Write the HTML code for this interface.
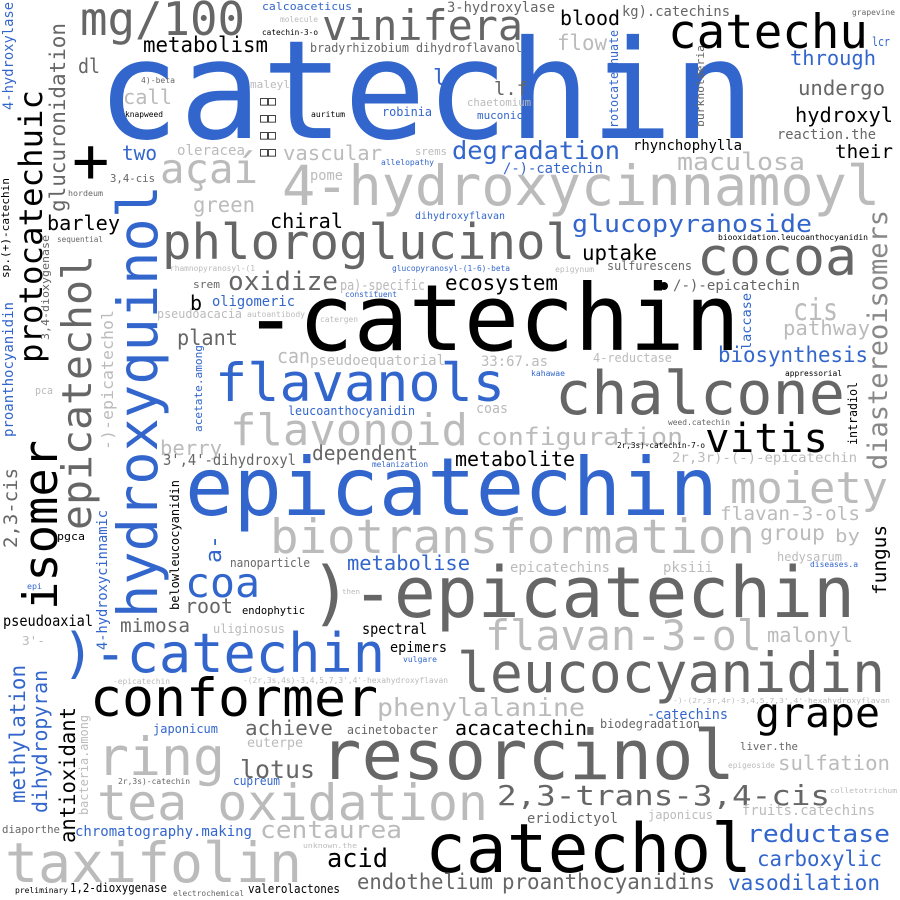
<!DOCTYPE html>
<html><head><meta charset="utf-8"><style>
html,body{margin:0;padding:0;background:#fff;}
svg{display:block}
text{font-family:"DejaVu Sans Mono","Liberation Mono","Noto Sans CJK SC",monospace;}
.b{fill:#3366cc}.k{fill:#000}.g{fill:#666}.l{fill:#bbb}.m{fill:#888}
</style></head><body>
<svg width="900" height="900" viewBox="0 0 900 900" xmlns="http://www.w3.org/2000/svg">
<g lengthAdjust="spacingAndGlyphs">
<text class="b" x="97" y="138" font-size="137" textLength="658" lengthAdjust="spacingAndGlyphs">catechin</text>
<text class="k" x="243" y="350" font-size="92" textLength="497" lengthAdjust="spacingAndGlyphs">-catechin</text>
<text class="b" x="185" y="515" font-size="80" textLength="533" lengthAdjust="spacingAndGlyphs">epicatechin</text>
<text class="g" x="310" y="617" font-size="70" textLength="545" lengthAdjust="spacingAndGlyphs">)-epicatechin</text>
<text class="g" x="320" y="779" font-size="69" textLength="415" lengthAdjust="spacingAndGlyphs">resorcinol</text>
<text class="k" x="425" y="872" font-size="68" textLength="327" lengthAdjust="spacingAndGlyphs">catechol</text>
<text class="b" x="62" y="672" font-size="54" textLength="323" lengthAdjust="spacingAndGlyphs">)-catechin</text>
<text class="k" x="90" y="716" font-size="53" textLength="288" lengthAdjust="spacingAndGlyphs">conformer</text>
<text class="g" x="457" y="692" font-size="55" textLength="428" lengthAdjust="spacingAndGlyphs">leucocyanidin</text>
<text class="g" x="555" y="414" font-size="60" textLength="290" lengthAdjust="spacingAndGlyphs">chalcone</text>
<text class="g" x="162" y="259" font-size="49" textLength="413" lengthAdjust="spacingAndGlyphs">phloroglucinol</text>
<text class="l" x="282" y="205" font-size="55" textLength="598" lengthAdjust="spacingAndGlyphs">4-hydroxycinnamoyl</text>
<text class="l" x="270" y="553" font-size="47" textLength="485" lengthAdjust="spacingAndGlyphs">biotransformation</text>
<text class="l" x="97" y="820" font-size="50" textLength="391" lengthAdjust="spacingAndGlyphs">tea oxidation</text>
<text class="l" x="5" y="882" font-size="55" textLength="297" lengthAdjust="spacingAndGlyphs">taxifolin</text>
<text class="l" x="97" y="775" font-size="53" textLength="128" lengthAdjust="spacingAndGlyphs">ring</text>
<text class="l" x="230" y="445" font-size="44" textLength="238" lengthAdjust="spacingAndGlyphs">flavonoid</text>
<text class="b" x="215" y="401" font-size="53" textLength="290" lengthAdjust="spacingAndGlyphs">flavanols</text>
<text class="l" x="485" y="650" font-size="42" textLength="277" lengthAdjust="spacingAndGlyphs">flavan-3-ol</text>

<!-- vertical -->
<text class="b" font-size="55" textLength="433" lengthAdjust="spacingAndGlyphs" transform="translate(157,618) rotate(-90)">hydroxyquinol</text>
<text class="k" font-size="47" textLength="170" lengthAdjust="spacingAndGlyphs" transform="translate(57,610) rotate(-90)">isomer</text>
<text class="k" font-size="32" textLength="273" lengthAdjust="spacingAndGlyphs" transform="translate(42,363) rotate(-90)">protocatechuic</text>
<text class="g" font-size="41" textLength="275" lengthAdjust="spacingAndGlyphs" transform="translate(91,530) rotate(-90)">epicatechol</text>
<text class="g" font-size="21" textLength="189" lengthAdjust="spacingAndGlyphs" transform="translate(65,212) rotate(-90)">glucuronidation</text>
<text class="b" font-size="14" textLength="108" lengthAdjust="spacingAndGlyphs" transform="translate(13,110) rotate(-90)">4-hydroxylase</text>
<text class="b" font-size="14" textLength="135" lengthAdjust="spacingAndGlyphs" transform="translate(13,437) rotate(-90)">proanthocyanidin</text>
<text class="k" font-size="11" textLength="100" lengthAdjust="spacingAndGlyphs" transform="translate(9,278) rotate(-90)">sp.(+)-catechin</text>
<text class="g" font-size="11" textLength="105" lengthAdjust="spacingAndGlyphs" transform="translate(49,340) rotate(-90)">3,4-dioxygenase</text>
<text class="l" font-size="16" textLength="140" lengthAdjust="spacingAndGlyphs" transform="translate(113,450) rotate(-90)">-)-epicatechol</text>
<text class="g" font-size="19" textLength="80" lengthAdjust="spacingAndGlyphs" transform="translate(17,548) rotate(-90)">2,3-cis</text>
<text class="b" font-size="14" textLength="140" lengthAdjust="spacingAndGlyphs" transform="translate(107,650) rotate(-90)">4-hydroxycinnamic</text>
<text class="k" font-size="12" textLength="130" lengthAdjust="spacingAndGlyphs" transform="translate(179,610) rotate(-90)">belowleucocyanidin</text>
<text class="b" font-size="22" textLength="28" lengthAdjust="spacingAndGlyphs" transform="translate(221,563) rotate(-90)">a-</text>
<text class="b" font-size="21" textLength="138" lengthAdjust="spacingAndGlyphs" transform="translate(25,803) rotate(-90)">methylation</text>
<text class="b" font-size="20" textLength="143" lengthAdjust="spacingAndGlyphs" transform="translate(47,813) rotate(-90)">dihydropyran</text>
<text class="k" font-size="21" textLength="136" lengthAdjust="spacingAndGlyphs" transform="translate(75,843) rotate(-90)">antioxidant</text>
<text class="l" font-size="12" textLength="100" lengthAdjust="spacingAndGlyphs" transform="translate(88,815) rotate(-90)">bacteria.among</text>
<text class="b" font-size="11" textLength="87" lengthAdjust="spacingAndGlyphs" transform="translate(202,432) rotate(-90)">acetate.among</text>
<text class="m" font-size="27" textLength="260" lengthAdjust="spacingAndGlyphs" transform="translate(887,470) rotate(-90)">diastereoisomers</text>
<text class="k" font-size="19" textLength="70" lengthAdjust="spacingAndGlyphs" transform="translate(886,595) rotate(-90)">fungus</text>
<text class="b" font-size="12" textLength="105" lengthAdjust="spacingAndGlyphs" transform="translate(618,135) rotate(-90)">protocatechuate</text>
<text class="g" font-size="11" textLength="82" lengthAdjust="spacingAndGlyphs" transform="translate(704,127) rotate(-90)">burkholderia</text>
<text class="b" font-size="13" textLength="57" lengthAdjust="spacingAndGlyphs" transform="translate(751,350) rotate(-90)">laccase</text>
<text class="k" font-size="12" textLength="63" lengthAdjust="spacingAndGlyphs" transform="translate(857,445) rotate(-90)">intradiol</text>

<!-- horizontal smaller -->
<text class="g" x="80" y="35" font-size="46" textLength="165" lengthAdjust="spacingAndGlyphs">mg/100</text>
<text class="g" x="322" y="40" font-size="42" textLength="201" lengthAdjust="spacingAndGlyphs">vinifera</text>
<text class="k" x="668" y="48" font-size="47" textLength="200" lengthAdjust="spacingAndGlyphs">catechu</text>
<text class="k" x="143" y="52" font-size="21" textLength="125" lengthAdjust="spacingAndGlyphs">metabolism</text>
<text class="b" x="262" y="10" font-size="11" textLength="90" lengthAdjust="spacingAndGlyphs">calcoaceticus</text>
<text class="l" x="280" y="22" font-size="8" textLength="38" lengthAdjust="spacingAndGlyphs">molecule</text>
<text class="k" x="262" y="35" font-size="8" textLength="56" lengthAdjust="spacingAndGlyphs">catechin-3-o</text>
<text class="g" x="447" y="12" font-size="14" textLength="108" lengthAdjust="spacingAndGlyphs">3-hydroxylase</text>
<text class="k" x="560" y="25" font-size="20" textLength="60" lengthAdjust="spacingAndGlyphs">blood</text>
<text class="g" x="622" y="16" font-size="14" textLength="108" lengthAdjust="spacingAndGlyphs">kg).catechins</text>
<text class="g" x="852" y="15" font-size="8" textLength="43" lengthAdjust="spacingAndGlyphs">grapevine</text>
<text class="b" x="872" y="46" font-size="12" textLength="18" lengthAdjust="spacingAndGlyphs">lcr</text>
<text class="b" x="790" y="65" font-size="20" textLength="86" lengthAdjust="spacingAndGlyphs">through</text>
<text class="g" x="798" y="95" font-size="20" textLength="87" lengthAdjust="spacingAndGlyphs">undergo</text>
<text class="k" x="795" y="122" font-size="20" textLength="98" lengthAdjust="spacingAndGlyphs">hydroxyl</text>
<text class="g" x="777" y="139" font-size="14" textLength="99" lengthAdjust="spacingAndGlyphs">reaction.the</text>
<text class="k" x="835" y="158" font-size="19" textLength="58" lengthAdjust="spacingAndGlyphs">their</text>
<text class="l" x="557" y="50" font-size="21" textLength="50" lengthAdjust="spacingAndGlyphs">flow</text>
<text class="g" x="494" y="95" font-size="19" textLength="34" lengthAdjust="spacingAndGlyphs">l.f</text>
<text class="l" x="467" y="106" font-size="11" textLength="64" lengthAdjust="spacingAndGlyphs">chaetomium</text>
<text class="b" x="477" y="119" font-size="11" textLength="46" lengthAdjust="spacingAndGlyphs">muconic</text>
<text class="g" x="310" y="52" font-size="12" textLength="212" lengthAdjust="spacingAndGlyphs">bradyrhizobium dihydroflavanol</text>
<text class="b" x="433" y="85" font-size="22">l</text>
<text class="g" x="78" y="73" font-size="20" textLength="22" lengthAdjust="spacingAndGlyphs">dl</text>
<text class="l" x="123" y="104" font-size="20" textLength="49" lengthAdjust="spacingAndGlyphs">call</text>
<text class="g" x="141" y="83" font-size="8" textLength="34" lengthAdjust="spacingAndGlyphs">4)-beta</text>
<text class="k" x="125" y="117" font-size="8" textLength="38" lengthAdjust="spacingAndGlyphs">knapweed</text>
<text class="l" x="250" y="88" font-size="11" textLength="40" lengthAdjust="spacingAndGlyphs">maleyl</text>
<text class="k" x="260" y="105" font-size="12" textLength="16" lengthAdjust="spacingAndGlyphs">□□</text>
<text class="k" x="260" y="122" font-size="12" textLength="16" lengthAdjust="spacingAndGlyphs">□□</text>
<text class="k" x="260" y="139" font-size="12" textLength="16" lengthAdjust="spacingAndGlyphs">□□</text>
<text class="k" x="260" y="156" font-size="12" textLength="16" lengthAdjust="spacingAndGlyphs">□□</text>
<text class="k" x="311" y="117" font-size="8" textLength="34" lengthAdjust="spacingAndGlyphs">auritum</text>
<text class="b" x="382" y="116" font-size="12" textLength="50" lengthAdjust="spacingAndGlyphs">robinia</text>
<text class="b" x="122" y="160" font-size="20" textLength="35" lengthAdjust="spacingAndGlyphs">two</text>
<text class="l" x="177" y="155" font-size="14" textLength="68" lengthAdjust="spacingAndGlyphs">oleracea</text>
<text class="l" x="283" y="160" font-size="20" textLength="99" lengthAdjust="spacingAndGlyphs">vascular</text>
<text class="l" x="415" y="155" font-size="11" textLength="32" lengthAdjust="spacingAndGlyphs">srems</text>
<text class="b" x="381" y="165" font-size="8" textLength="53" lengthAdjust="spacingAndGlyphs">allelopathy</text>
<text class="k" x="72" y="182" font-size="62">+</text>
<text class="g" x="110" y="182" font-size="11" textLength="45" lengthAdjust="spacingAndGlyphs">3,4-cis</text>
<text class="l" x="160" y="183" font-size="41" textLength="98" lengthAdjust="spacingAndGlyphs">açaí</text>
<text class="l" x="310" y="180" font-size="14" textLength="33" lengthAdjust="spacingAndGlyphs">pome</text>
<text class="l" x="193" y="212" font-size="21" textLength="62" lengthAdjust="spacingAndGlyphs">green</text>
<text class="g" x="68" y="196" font-size="8" textLength="35" lengthAdjust="spacingAndGlyphs">hordeum</text>
<text class="b" x="415" y="219" font-size="10" textLength="90" lengthAdjust="spacingAndGlyphs">dihydroxyflavan</text>
<text class="k" x="270" y="228" font-size="20" textLength="73" lengthAdjust="spacingAndGlyphs">chiral</text>
<text class="k" x="47" y="230" font-size="20" textLength="73" lengthAdjust="spacingAndGlyphs">barley</text>
<text class="g" x="57" y="242" font-size="8" textLength="46" lengthAdjust="spacingAndGlyphs">sequential</text>
<text class="b" x="572" y="232" font-size="24" textLength="240" lengthAdjust="spacingAndGlyphs">glucopyranoside</text>
<text class="b" x="392" y="271" font-size="8" textLength="118" lengthAdjust="spacingAndGlyphs">glucopyranosyl-(1-6)-beta</text>
<text class="l" x="170" y="271" font-size="8" textLength="85" lengthAdjust="spacingAndGlyphs">rhamnopyranosyl-(1</text>
<text class="k" x="718" y="240" font-size="8" textLength="150" lengthAdjust="spacingAndGlyphs">biooxidation.leucoanthocyanidin</text>
<text class="k" x="582" y="260" font-size="21" textLength="75" lengthAdjust="spacingAndGlyphs">uptake</text>
<text class="g" x="697" y="275" font-size="53" textLength="160" lengthAdjust="spacingAndGlyphs">cocoa</text>
<text class="g" x="607" y="270" font-size="12" textLength="85" lengthAdjust="spacingAndGlyphs">sulfurescens</text>
<text class="l" x="555" y="272" font-size="8" textLength="39" lengthAdjust="spacingAndGlyphs">epigynum</text>
<text class="k" x="445" y="290" font-size="21" textLength="113" lengthAdjust="spacingAndGlyphs">ecosystem</text>
<circle cx="664" cy="286" r="4" fill="#000"/>
<text class="g" x="673" y="290" font-size="14" textLength="127" lengthAdjust="spacingAndGlyphs">/-)-epicatechin</text>
<text class="g" x="193" y="288" font-size="11" textLength="27" lengthAdjust="spacingAndGlyphs">srem</text>
<text class="g" x="228" y="290" font-size="26" textLength="110" lengthAdjust="spacingAndGlyphs">oxidize</text>
<text class="l" x="340" y="290" font-size="14" textLength="85" lengthAdjust="spacingAndGlyphs">pa)-specific</text>
<text class="k" x="190" y="310" font-size="20">b</text>
<text class="b" x="212" y="306" font-size="14" textLength="83" lengthAdjust="spacingAndGlyphs">oligomeric</text>
<text class="b" x="345" y="297" font-size="8" textLength="52" lengthAdjust="spacingAndGlyphs">constituent</text>
<text class="l" x="157" y="318" font-size="12" textLength="85" lengthAdjust="spacingAndGlyphs">pseudoacacia</text>
<text class="l" x="247" y="317" font-size="8" textLength="58" lengthAdjust="spacingAndGlyphs">autoantibody</text>
<text class="l" x="320" y="322" font-size="8" textLength="38" lengthAdjust="spacingAndGlyphs">catergen</text>
<text class="l" x="793" y="320" font-size="30" textLength="45" lengthAdjust="spacingAndGlyphs">cis</text>
<text class="l" x="783" y="335" font-size="20" textLength="87" lengthAdjust="spacingAndGlyphs">pathway</text>
<text class="g" x="177" y="345" font-size="21" textLength="61" lengthAdjust="spacingAndGlyphs">plant</text>
<text class="l" x="277" y="363" font-size="20" textLength="33" lengthAdjust="spacingAndGlyphs">can</text>
<text class="l" x="310" y="365" font-size="14" textLength="135" lengthAdjust="spacingAndGlyphs">pseudoequatorial</text>
<text class="l" x="481" y="366" font-size="14" textLength="67" lengthAdjust="spacingAndGlyphs">33:67.as</text>
<text class="l" x="593" y="362" font-size="12" textLength="79" lengthAdjust="spacingAndGlyphs">4-reductase</text>
<text class="b" x="531" y="376" font-size="8" textLength="34" lengthAdjust="spacingAndGlyphs">kahawae</text>
<text class="b" x="718" y="362" font-size="21" textLength="150" lengthAdjust="spacingAndGlyphs">biosynthesis</text>
<text class="k" x="785" y="376" font-size="8" textLength="57" lengthAdjust="spacingAndGlyphs">appressorial</text>
<text class="l" x="35" y="394" font-size="11" textLength="18" lengthAdjust="spacingAndGlyphs">pca</text>
<text class="b" x="288" y="415" font-size="12" textLength="127" lengthAdjust="spacingAndGlyphs">leucoanthocyanidin</text>
<text class="l" x="476" y="413" font-size="14" textLength="32" lengthAdjust="spacingAndGlyphs">coas</text>
<text class="l" x="476" y="445" font-size="24" textLength="207" lengthAdjust="spacingAndGlyphs">configuration</text>
<text class="g" x="668" y="425" font-size="8" textLength="62" lengthAdjust="spacingAndGlyphs">weed.catechin</text>
<text class="k" x="617" y="448" font-size="8" textLength="88" lengthAdjust="spacingAndGlyphs">2r,3s)-catechin-7-o</text>
<text class="k" x="705" y="452" font-size="40" textLength="123" lengthAdjust="spacingAndGlyphs">vitis</text>
<text class="l" x="160" y="455" font-size="20" textLength="62" lengthAdjust="spacingAndGlyphs">berry</text>
<text class="g" x="163" y="465" font-size="15" textLength="133" lengthAdjust="spacingAndGlyphs">3',4'-dihydroxyl</text>
<text class="g" x="312" y="460" font-size="20" textLength="106" lengthAdjust="spacingAndGlyphs">dependent</text>
<text class="b" x="372" y="467" font-size="8" textLength="56" lengthAdjust="spacingAndGlyphs">melanization</text>
<text class="k" x="455" y="466" font-size="20" textLength="120" lengthAdjust="spacingAndGlyphs">metabolite</text>
<text class="l" x="672" y="462" font-size="13" textLength="185" lengthAdjust="spacingAndGlyphs">2r,3r)-(-)-epicatechin</text>
<text class="l" x="730" y="503" font-size="44" textLength="158" lengthAdjust="spacingAndGlyphs">moiety</text>
<text class="l" x="720" y="520" font-size="19" textLength="140" lengthAdjust="spacingAndGlyphs">flavan-3-ols</text>
<text class="l" x="760" y="540" font-size="21" textLength="65" lengthAdjust="spacingAndGlyphs">group</text>
<text class="l" x="835" y="542" font-size="18" textLength="25" lengthAdjust="spacingAndGlyphs">by</text>
<text class="l" x="777" y="561" font-size="12" textLength="65" lengthAdjust="spacingAndGlyphs">hedysarum</text>
<text class="b" x="810" y="567" font-size="8" textLength="48" lengthAdjust="spacingAndGlyphs">diseases.a</text>
<text class="k" x="57" y="540" font-size="11" textLength="28" lengthAdjust="spacingAndGlyphs">pgca</text>
<text class="g" x="230" y="567" font-size="12" textLength="80" lengthAdjust="spacingAndGlyphs">nanoparticle</text>
<text class="b" x="347" y="570" font-size="20" textLength="123" lengthAdjust="spacingAndGlyphs">metabolise</text>
<text class="l" x="510" y="572" font-size="14" textLength="100" lengthAdjust="spacingAndGlyphs">epicatechins</text>
<text class="l" x="663" y="572" font-size="14" textLength="50" lengthAdjust="spacingAndGlyphs">pksiii</text>
<text class="b" x="185" y="597" font-size="41" textLength="75" lengthAdjust="spacingAndGlyphs">coa</text>
<text class="b" x="27" y="589" font-size="8" textLength="15" lengthAdjust="spacingAndGlyphs">epi</text>
<text class="l" x="342" y="594" font-size="7" textLength="18" lengthAdjust="spacingAndGlyphs">then</text>
<text class="g" x="185" y="613" font-size="20" textLength="48" lengthAdjust="spacingAndGlyphs">root</text>
<text class="k" x="242" y="614" font-size="11" textLength="63" lengthAdjust="spacingAndGlyphs">endophytic</text>
<text class="k" x="3" y="626" font-size="15" textLength="90" lengthAdjust="spacingAndGlyphs">pseudoaxial</text>
<text class="g" x="120" y="632" font-size="19" textLength="70" lengthAdjust="spacingAndGlyphs">mimosa</text>
<text class="l" x="213" y="633" font-size="12" textLength="72" lengthAdjust="spacingAndGlyphs">uliginosus</text>
<text class="k" x="362" y="634" font-size="15" textLength="65" lengthAdjust="spacingAndGlyphs">spectral</text>
<text class="l" x="767" y="642" font-size="20" textLength="86" lengthAdjust="spacingAndGlyphs">malonyl</text>
<text class="l" x="22" y="645" font-size="12" textLength="23" lengthAdjust="spacingAndGlyphs">3'-</text>
<text class="k" x="390" y="652" font-size="14" textLength="57" lengthAdjust="spacingAndGlyphs">epimers</text>
<text class="b" x="403" y="662" font-size="8" textLength="34" lengthAdjust="spacingAndGlyphs">vulgare</text>
<text class="l" x="113" y="684" font-size="8" textLength="57" lengthAdjust="spacingAndGlyphs">-epicatechin</text>
<text class="l" x="243" y="683" font-size="8" textLength="205" lengthAdjust="spacingAndGlyphs">-(2r,3s,4s)-3,4,5,7,3',4'-hexahydroxyflavan</text>
<text class="l" x="377" y="716" font-size="25" textLength="208" lengthAdjust="spacingAndGlyphs">phenylalanine</text>
<text class="l" x="673" y="703" font-size="7" textLength="217" lengthAdjust="spacingAndGlyphs">-)-(2r,3r,4r)-3,4,5,7,3',4'-hexahydroxyflavan</text>
<text class="b" x="647" y="719" font-size="14" textLength="81" lengthAdjust="spacingAndGlyphs">-catechins</text>
<text class="k" x="755" y="727" font-size="41" textLength="125" lengthAdjust="spacingAndGlyphs">grape</text>
<text class="b" x="153" y="733" font-size="12" textLength="65" lengthAdjust="spacingAndGlyphs">japonicum</text>
<text class="g" x="245" y="735" font-size="20" textLength="88" lengthAdjust="spacingAndGlyphs">achieve</text>
<text class="g" x="347" y="734" font-size="12" textLength="91" lengthAdjust="spacingAndGlyphs">acinetobacter</text>
<text class="k" x="455" y="735" font-size="20" textLength="132" lengthAdjust="spacingAndGlyphs">acacatechin</text>
<text class="g" x="600" y="728" font-size="12" textLength="100" lengthAdjust="spacingAndGlyphs">biodegradation</text>
<text class="l" x="247" y="747" font-size="13" textLength="56" lengthAdjust="spacingAndGlyphs">euterpe</text>
<text class="g" x="740" y="750" font-size="11" textLength="58" lengthAdjust="spacingAndGlyphs">liver.the</text>
<text class="g" x="240" y="778" font-size="25" textLength="75" lengthAdjust="spacingAndGlyphs">lotus</text>
<text class="l" x="728" y="768" font-size="8" textLength="47" lengthAdjust="spacingAndGlyphs">epigeoside</text>
<text class="l" x="778" y="770" font-size="20" textLength="112" lengthAdjust="spacingAndGlyphs">sulfation</text>
<text class="g" x="118" y="784" font-size="8" textLength="72" lengthAdjust="spacingAndGlyphs">2r,3s)-catechin</text>
<text class="b" x="233" y="785" font-size="12" textLength="47" lengthAdjust="spacingAndGlyphs">cupreum</text>
<text class="g" x="497" y="805" font-size="28" textLength="333" lengthAdjust="spacingAndGlyphs">2,3-trans-3,4-cis</text>
<text class="l" x="830" y="793" font-size="7" textLength="67" lengthAdjust="spacingAndGlyphs">colletotrichum</text>
<text class="l" x="742" y="815" font-size="14" textLength="133" lengthAdjust="spacingAndGlyphs">fruits.catechins</text>
<text class="l" x="648" y="819" font-size="12" textLength="65" lengthAdjust="spacingAndGlyphs">japonicus</text>
<text class="g" x="527" y="823" font-size="14" textLength="91" lengthAdjust="spacingAndGlyphs">eriodictyol</text>
<text class="g" x="2" y="833" font-size="11" textLength="58" lengthAdjust="spacingAndGlyphs">diaporthe</text>
<text class="b" x="75" y="836" font-size="14" textLength="177" lengthAdjust="spacingAndGlyphs">chromatography.making</text>
<text class="l" x="260" y="838" font-size="24" textLength="142" lengthAdjust="spacingAndGlyphs">centaurea</text>
<text class="b" x="747" y="842" font-size="24" textLength="143" lengthAdjust="spacingAndGlyphs">reductase</text>
<text class="l" x="303" y="848" font-size="7" textLength="54" lengthAdjust="spacingAndGlyphs">unknown.the</text>
<text class="b" x="757" y="866" font-size="21" textLength="125" lengthAdjust="spacingAndGlyphs">carboxylic</text>
<text class="k" x="327" y="867" font-size="26" textLength="61" lengthAdjust="spacingAndGlyphs">acid</text>
<text class="g" x="357" y="889" font-size="21" textLength="136" lengthAdjust="spacingAndGlyphs">endothelium</text>
<text class="g" x="502" y="889" font-size="21" textLength="213" lengthAdjust="spacingAndGlyphs">proanthocyanidins</text>
<text class="b" x="728" y="890" font-size="21" textLength="152" lengthAdjust="spacingAndGlyphs">vasodilation</text>
<text class="k" x="15" y="893" font-size="8" textLength="53" lengthAdjust="spacingAndGlyphs">preliminary</text>
<text class="k" x="70" y="892" font-size="12" textLength="97" lengthAdjust="spacingAndGlyphs">1,2-dioxygenase</text>
<text class="g" x="173" y="896" font-size="8" textLength="71" lengthAdjust="spacingAndGlyphs">electrochemical</text>
<text class="k" x="248" y="893" font-size="12" textLength="92" lengthAdjust="spacingAndGlyphs">valerolactones</text>
<text class="b" x="452" y="159" font-size="25" textLength="168" lengthAdjust="spacingAndGlyphs">degradation</text>
<text class="b" x="503" y="173" font-size="14" textLength="100" lengthAdjust="spacingAndGlyphs">/-)-catechin</text>
<text class="k" x="633" y="150" font-size="14" textLength="109" lengthAdjust="spacingAndGlyphs">rhynchophylla</text>
<text class="l" x="677" y="170" font-size="24" textLength="128" lengthAdjust="spacingAndGlyphs">maculosa</text>
</g>
</svg>
</body></html>
